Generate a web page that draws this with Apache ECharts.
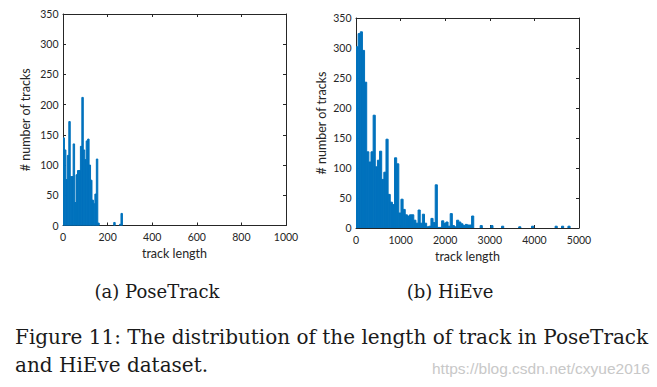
<!DOCTYPE html>
<html>
<head>
<meta charset="utf-8">
<script src="https://cdn.jsdelivr.net/npm/echarts@6/dist/echarts.min.js"></script>
<style>
html,body{margin:0;padding:0;background:#fff;}
#chart{width:657px;height:387px;}
</style>
</head>
<body>
<div id="chart"></div>
<script>
// ---------------- data ----------------
// (a) PoseTrack: histogram bin width and counts per bin, starting at 0
const poseBinWidth = 6.5;
const poseCounts = [145,125,76,116,172,81,81,135,38,84,91,91,131,212,125,109,140,143,100,75,42,36,52,110,4,
  0,0,0,0,0,0,0,0,0,0,5,0,0,0,2,20];
// (b) HiEve: histogram bin width and counts per bin, starting at 0
const hieveBinWidth = 48;
const hieveCounts = [302,324,327,296,243,127,110,127,188,102,113,128,81,93,148,56,43,39,117,107,
  25,48,31,22,20,22,22,13,8,30,8,23,8,2,3,16,9,72,1,1,
  12,8,10,3,24,4,2,13,10,7,4,6,5,5,20,0,0,0,4,0,
  0,0,0,4,0,0,0,0,3,0,0,0,0,0,0,0,2,0,0,0,
  0,0,3,0,0,0,0,0,0,0,0,0,0,3,0,0,3,0,0,3];
const poseXTicks = [0,200,400,600,800,1000];
const hieveXTicks = [0,1000,2000,3000,4000,5000];
const yTicks = [0,50,100,150,200,250,300,350];
const xName = 'track length';
const yName = '# number of tracks';
const captions = ['(a) PoseTrack','(b) HiEve'];
const figureCaption = ['Figure 11: The distribution of the length of track in PoseTrack','and HiEve dataset.'];
const watermark = 'https://blog.csdn.net/cxyue2016';

// ---------------- build ----------------
function bins(counts, w){
  return counts.map((c,i)=>[i*w,(i+1)*w,c]);
}
const barColor = '#0072BD';
const axisColor = '#262626';
const tickFont = 'Lato';

function renderHist(params, api){
  if (!api.value(2)) return null;
  const p0 = api.coord([api.value(0), 0]);
  const p1 = api.coord([api.value(1), api.value(2)]);
  return {type:'rect', shape:{x:p0[0], y:p1[1], width:p1[0]-p0[0], height:p0[1]-p1[1]},
    style:{fill:barColor, stroke:barColor, lineWidth:1}};
}

function xAx(gridIndex, ticks, main){
  return {
    type:'value', gridIndex, position: main?'bottom':'top',
    min:ticks[0], max:ticks[ticks.length-1], interval:ticks[1]-ticks[0],
    name: main? xName : '', nameLocation:'middle', nameGap:21,
    nameTextStyle:{fontFamily:tickFont, fontSize:12.5, color:axisColor},
    axisLine:{show:true, onZero:false, lineStyle:{color:axisColor, width:1}},
    axisTick:{show:true, inside:true, length:3, lineStyle:{color:axisColor}},
    axisLabel:{show:main, margin:6, fontFamily:tickFont, fontSize:10.5, color:axisColor,
      formatter:(v)=>String(v)},
    splitLine:{show:false}
  };
}
function yAx(gridIndex, main, gap){
  return {
    type:'value', gridIndex, position: main?'left':'right',
    min:yTicks[0], max:yTicks[yTicks.length-1], interval:yTicks[1]-yTicks[0],
    name: main? yName : '', nameLocation:'middle', nameGap:gap, nameRotate:90,
    nameTextStyle:{fontFamily:tickFont, fontSize:12.5, color:axisColor},
    axisLine:{show:true, onZero:false, lineStyle:{color:axisColor, width:1}},
    axisTick:{show:true, inside:true, length:3, lineStyle:{color:axisColor}},
    axisLabel:{show:main, margin:4.5, fontFamily:tickFont, fontSize:10.5, color:axisColor,
      formatter:(v)=>String(v)},
    splitLine:{show:false}
  };
}

const chart = echarts.init(document.getElementById('chart'), null, {renderer:'svg'});
const serifFont = '"DejaVu Serif"';
chart.setOption({
  animation:false,
  backgroundColor:'#fff',
  grid:[
    {left:63, top:14, width:223, height:211.5, containLabel:false},
    {left:356, top:18, width:223, height:210, containLabel:false}
  ],
  xAxis:[xAx(0,poseXTicks,true), xAx(0,poseXTicks,false), xAx(1,hieveXTicks,true), xAx(1,hieveXTicks,false)],
  yAxis:[yAx(0,true,31), yAx(0,false,0), yAx(1,true,28), yAx(1,false,0)],
  series:[
    {type:'custom', xAxisIndex:0, yAxisIndex:0, renderItem:renderHist, data:bins(poseCounts,poseBinWidth), clip:true},
    {type:'custom', xAxisIndex:2, yAxisIndex:2, renderItem:renderHist, data:bins(hieveCounts,hieveBinWidth), clip:true}
  ],
  graphic:[
    {type:'text', x:157, y:291, style:{text:captions[0], font:'18px ' + serifFont, fill:'#1a1a1a', align:'center', verticalAlign:'middle'}},
    {type:'text', x:450, y:291, style:{text:captions[1], font:'18px ' + serifFont, fill:'#1a1a1a', align:'center', verticalAlign:'middle'}},
    {type:'text', x:15, y:337, style:{text:figureCaption[0], font:'20px ' + serifFont, fill:'#1a1a1a', align:'left', verticalAlign:'middle'}},
    {type:'text', x:15, y:365, style:{text:figureCaption[1], font:'20px ' + serifFont, fill:'#1a1a1a', align:'left', verticalAlign:'middle'}},
    {type:'text', x:650, y:368, style:{text:watermark, font:'15.5px "Liberation Sans"', fill:'#c8c8c8', align:'right', verticalAlign:'middle'}}
  ]
});
</script>
</body>
</html>
